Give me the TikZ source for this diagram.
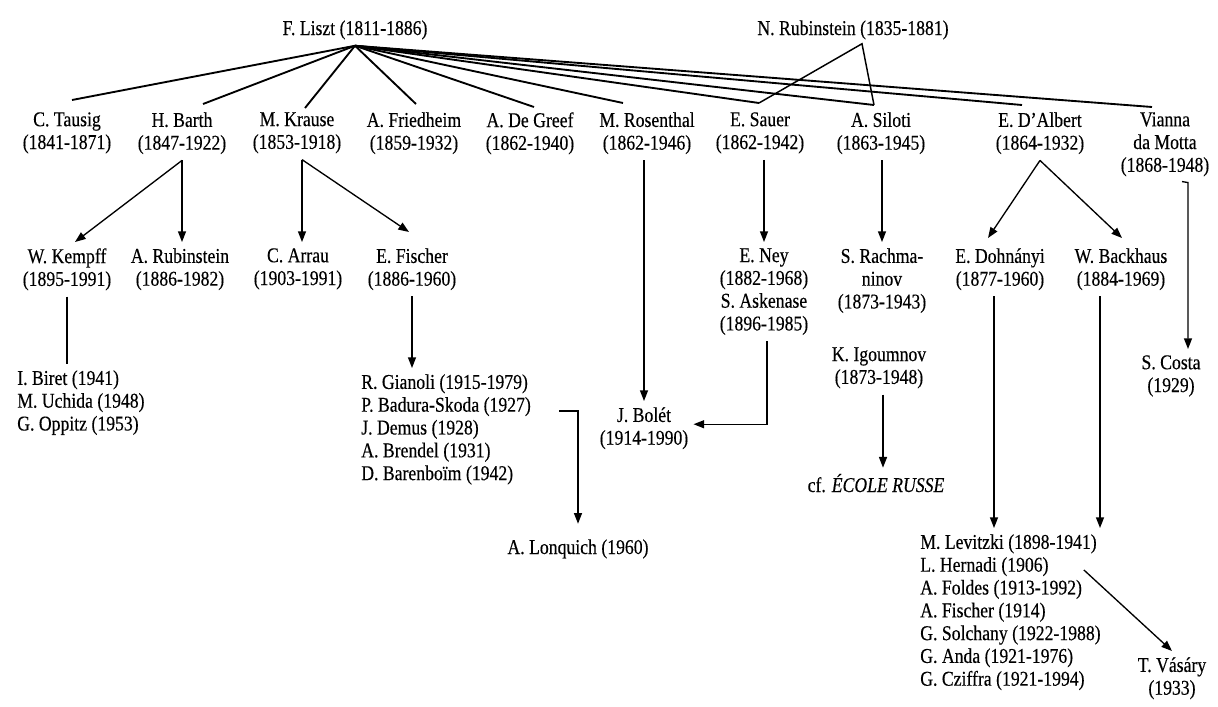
\documentclass[tikz,border=0pt]{standalone}
\usepackage{fontspec}
\setmainfont{Liberation Serif}[FakeStretch=0.84,FakeBold=0.3]
\usepackage{tikz}
\usetikzlibrary{arrows.meta,calc}
\tikzset{
  who/.style={inner xsep=0pt, inner ysep=4.5pt, align=center,
    font=\fontsize{15.8pt}{17.1pt}\selectfont,
    execute at begin node={\rule{0pt}{12pt}}},
  fan/.style={line width=1.4pt},
  arr/.style={line width=1pt, -{Triangle[length=8pt,width=6pt]}}
}

\begin{document}
\begin{tikzpicture}[x=0.75pt,y=0.75pt,yscale=-1,xscale=1]
\useasboundingbox (0,0) rectangle (1218,707);

% Text Node
\draw (355,35) node [who,anchor=base] (liszt) {F. Liszt (1811-1886)};
% Text Node
\draw (853,35) node [who,anchor=base] (nrub) {N. Rubinstein (1835-1881)};

% Text Node
\draw (67,106) node [who,anchor=north] (tausig) {C. Tausig\\(1841-1871)};
% Text Node
\draw (182,106) node [who,anchor=north] (barth) {H. Barth\\(1847-1922)};
% Text Node
\draw (297,106) node [who,anchor=north] (krause) {M. Krause\\(1853-1918)};
% Text Node
\draw (414,106) node [who,anchor=north] (friedheim) {A. Friedheim\\(1859-1932)};
% Text Node
\draw (530,106) node [who,anchor=north] (degreef) {A. De Greef\\(1862-1940)};
% Text Node
\draw (647,106) node [who,anchor=north] (rosenthal) {M. Rosenthal\\(1862-1946)};
% Text Node
\draw (760,106) node [who,anchor=north] (sauer) {E. Sauer\\(1862-1942)};
% Text Node
\draw (881,106) node [who,anchor=north] (siloti) {A. Siloti\\(1863-1945)};
% Text Node
\draw (1040,106) node [who,anchor=north] (dalbert) {E. D'Albert\\(1864-1932)};
% Text Node
\draw (1165,106) node [who,anchor=north] (vianna) {Vianna\\da Motta\\(1868-1948)};

% Text Node
\draw (67,242) node [who,anchor=north] (kempff) {W. Kempff\\(1895-1991)};
% Text Node
\draw (180,242) node [who,anchor=north] (arubinstein) {A. Rubinstein\\(1886-1982)};
% Text Node
\draw (298,242) node [who,anchor=north] (arrau) {C. Arrau\\(1903-1991)};
% Text Node
\draw (412,242) node [who,anchor=north] (efischer) {E. Fischer\\(1886-1960)};
% Text Node
\draw (764,242) node [who,anchor=north] (ney) {E. Ney\\(1882-1968)\\S. Askenase\\(1896-1985)};
% Text Node
\draw (882,242) node [who,anchor=north] (rachma) {S. Rachma-\\ninov\\(1873-1943)};
% Text Node
\draw (1000,242) node [who,anchor=north] (dohnanyi) {E. Dohnányi\\(1877-1960)};
% Text Node
\draw (1121,242) node [who,anchor=north] (backhaus) {W. Backhaus\\(1884-1969)};

% Text Node
\draw (879,341) node [who,anchor=north] (igoumnov) {K. Igoumnov\\(1873-1948)};
% Text Node
\draw (876,492) node [who,anchor=base] (ecole) {cf. \textit{ÉCOLE RUSSE}};
% Text Node
\draw (1171,349) node [who,anchor=north] (costa) {S. Costa\\(1929)};
% Text Node
\draw (644,401) node [who,anchor=north] (bolet) {J. Bolét\\(1914-1990)};
% Text Node
\draw (17,364) node [who,anchor=north west,align=left] (biret) {I. Biret (1941)\\M. Uchida (1948)\\G. Oppitz (1953)};
% Text Node
\draw (361,368) node [who,anchor=north west,align=left] (gianoli) {R. Gianoli (1915-1979)\\P. Badura-Skoda (1927)\\J. Demus (1928)\\A. Brendel (1931)\\D. Barenboïm (1942)};
% Text Node
\draw (578,554) node [who,anchor=base] (lonquich) {A. Lonquich (1960)};
% Text Node
\draw (920,528) node [who,anchor=north west,align=left] (levitzki) {M. Levitzki (1898-1941)\\L. Hernadi (1906)\\A. Foldes (1913-1992)\\A. Fischer (1914)\\G. Solchany (1922-1988)\\G. Anda (1921-1976)\\G. Cziffra (1921-1994)};
% Text Node
\draw (1172,651) node [who,anchor=north] (vasary) {T. Vásáry\\(1933)};

%Straight Lines
\foreach \n/\dx/\dy in {tausig/5/-6, barth/21/-2, krause/8/2, friedheim/2/-2, degreef/4/1, rosenthal/-24/-3, sauer/-1/-3, siloti/-7/-1, dalbert/-18/-1, vianna/-13/1}
  \draw [fan] (liszt.south) -- ($(\n.north)+(\dx,\dy)$);
%Straight Lines
\draw [line width=1.1pt] ($(sauer.north)+(-1,-3)$) -- ($(nrub.south)+(9,-2)$) -- ($(siloti.north)+(-7,-1)$);

%Straight Lines
\draw [arr] (barth.south) -- ($(kempff.north)+(8,0)$);
\draw [arr] (barth.south) -- (barth.south |- arubinstein.north);
\draw [arr] ($(krause.south)+(5,0)$) coordinate (kr) -- (kr |- arrau.north);
\draw [arr] (kr) -- ($(efischer.north)+(-3,-10)$);
\draw [arr] (ney.north |- sauer.south) -- (ney.north);
\draw [arr] (rachma.north |- siloti.south) -- (rachma.north);
\draw [arr] (dalbert.south) -- ($(dohnanyi.north)+(-12,-4)$);
\draw [arr] (dalbert.south) -- ($(backhaus.north)+(1,-4)$);
\draw [arr] (bolet.north |- rosenthal.south) -- (bolet.north);
\draw [arr] ($(ney.south)+(3,0)$) |- ($(bolet.east)+(5,-4)$);
\draw [line width=1pt] (kempff.south) -- (kempff.south |- biret.north);
\draw [arr] (efischer.south) -- (efischer.south |- gianoli.north);
\draw [arr] ($(gianoli.north east)+(28,43)$) -| ($(lonquich.north)+(0,-8)$);
\draw [arr] ($(igoumnov.south)+(4,0)$) coordinate (ig) -- (ig |- ecole.north);
\draw [arr] ($(vianna.south)+(17,-1)$) -- ++(6,1) coordinate (vm) -- (vm |- costa.north);
\draw [arr] ($(dohnanyi.south)+(-6,0)$) coordinate (dv) -- (dv |- levitzki.north);
\draw [arr] ($(backhaus.south)+(-21,0)$) coordinate (bv) -- (bv |- levitzki.north);
\draw [arr] ($(levitzki.north east)+(-17,42)$) -- (vasary.north);
\end{tikzpicture}
\end{document}
